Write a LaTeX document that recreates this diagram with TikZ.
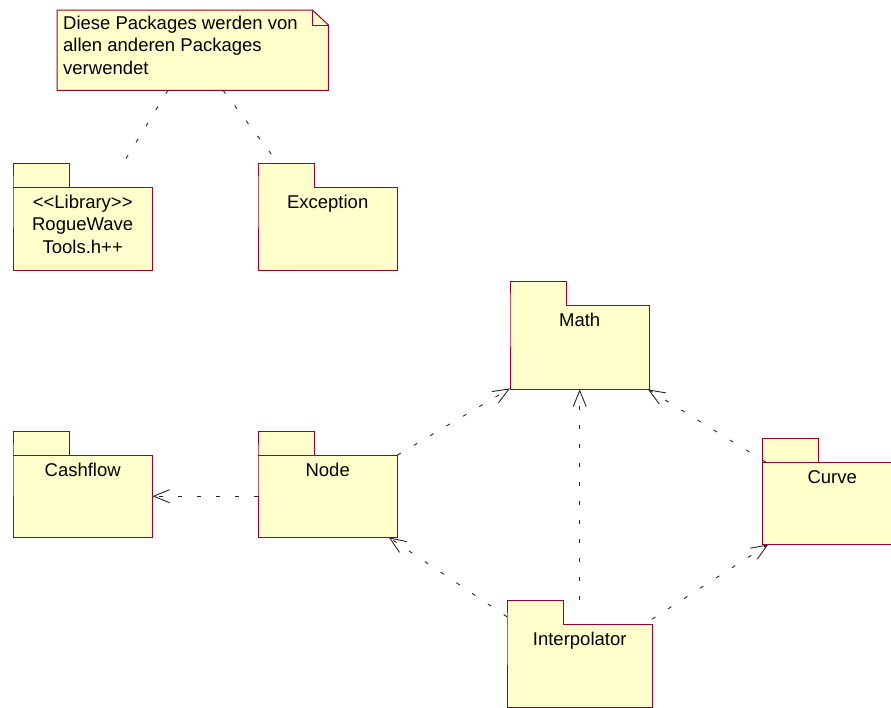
\documentclass[tikz,border=0pt]{standalone}
\usepackage{fontspec}
\setmainfont{Liberation Sans}
\usetikzlibrary{arrows.meta}

\definecolor{pkgfill}{RGB}{255,255,204}
\definecolor{pkgborder}{RGB}{153,0,51}

\tikzset{
  pkgbody/.style={fill=pkgfill, draw=none, anchor=north west, inner sep=0pt,
    minimum width=139pt, minimum height=83pt},
  pkgline/.style={draw=pkgborder, fill=pkgfill, line width=1pt},
  pkgsep/.style={draw=pkgborder, line width=1pt},
  pkgtext/.style={anchor=base, align=center, inner sep=0pt,
    font=\fontsize{18.5}{22.5}\selectfont},
  notebox/.style={draw=none, fill=none, anchor=north west, inner sep=0pt,
    minimum width=271pt, minimum height=80pt},
  notetext/.style={anchor=base west, align=left, inner sep=0pt,
    font=\fontsize{18.5}{22.5}\selectfont},
  dep/.style={draw=black!85, line width=0.9pt, dash pattern=on 4pt off 15pt,
    -{Straight Barb[length=16pt,width=13pt]}},
  trace/.style={draw=black!85, line width=0.9pt, dash pattern=on 4pt off 15pt},
}

% UML package: body node plus tab outline and a centred name
% (#6 = number of extra name lines below the first one)
\newcommand\umlpackage[6][]{%
  \node[pkgbody,#1] (#2) at (#3,#4) {};
  \filldraw[pkgline] (#2.north west) -- ++(0,-24) -- ++(56,0) -- ++(0,24)
    -- (#2.north east) -- (#2.south east) -- (#2.south west) -- cycle;
  \node[pkgtext] (#2-name) at ([yshift=-21pt-#6*22.5pt]#2.north) {#5};
}

\begin{document}
\begin{tikzpicture}[x=1pt, y=-1pt]
  \useasboundingbox (0,0) rectangle (891,707);
  \clip (0,0) rectangle (891,707);

  % note with folded corner
  \node[notebox] (note) at (57,10) {};
  \filldraw[pkgline] (note.north west) -- ([xshift=-16pt]note.north east)
    -- ([yshift=-15pt]note.north east) -- (note.south east)
    -- (note.south west) -- cycle;
  \draw[pkgsep] ([xshift=-16pt]note.north east) |- ([yshift=-15pt]note.north east);
  \node[notetext] (note-text) at (63,74)
    {Diese Packages werden von\\allen anderen Packages\\verwendet};

  % packages
  \umlpackage{rogue}{13}{187}{{<}{<}Library{>}{>}\\RogueWave\\Tools.h++}{2}
  \draw[pkgsep] (rogue.north west) -- (rogue.north east);
  \umlpackage{exception}{258}{187}{Exception}{0}
  \umlpackage[minimum height=84pt]{math}{510}{305}{Math}{0}
  \umlpackage[minimum height=82pt]{cashflow}{13}{455}{Cashflow}{0}
  \draw[pkgsep] (cashflow.north west) -- (cashflow.north east);
  \umlpackage[minimum height=82pt]{node}{258}{455}{Node}{0}
  \draw[pkgsep] (node.north west) -- (node.north east);
  \umlpackage[minimum width=140pt, minimum height=82pt]{curve}{762}{462}{Curve}{0}
  \draw[pkgsep] (curve.north west) -- (curve.north east);
  \umlpackage[minimum width=145pt]{interp}{507}{624}{Interpolator}{0}

  % note attachments
  \draw[trace, shorten >=29pt] (note) -- (rogue);
  \draw[trace, shorten >=31pt] (note) -- (exception);

  % dependencies
  \draw[dep] (node) -- (cashflow);
  \draw[dep] (node) -- (math);
  \draw[dep] (curve) -- (math);
  \draw[dep, shorten <=24pt] (interp) -- (math);
  \draw[dep, shorten <=13pt] (interp) -- (node);
  \draw[dep, shorten <=9pt] (interp) -- (curve);
\end{tikzpicture}
\end{document}
